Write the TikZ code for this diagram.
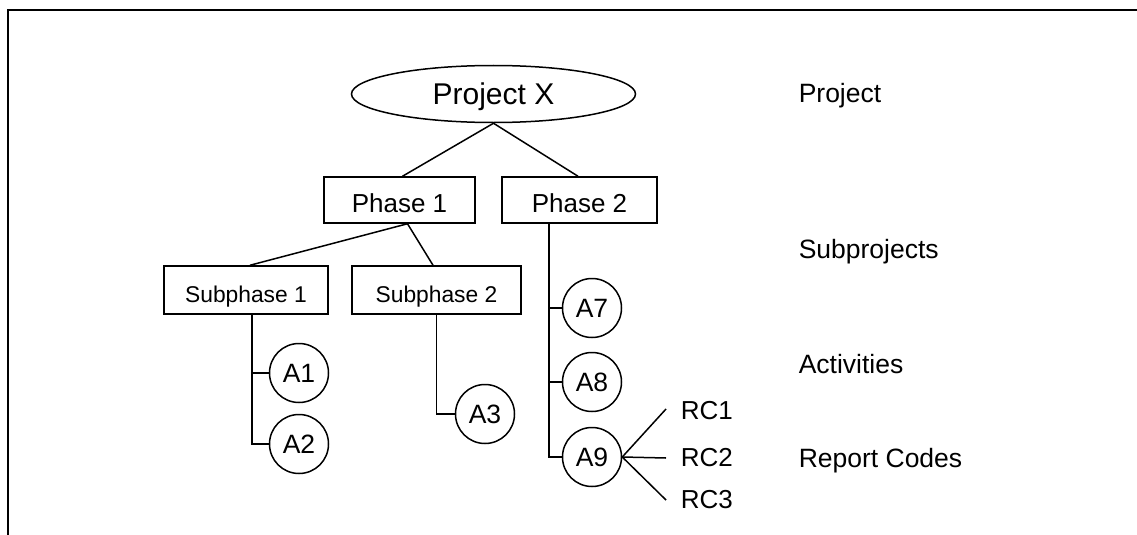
\documentclass[tikz,border=0pt]{standalone}
\usepackage{fontspec}
\setmainfont{Liberation Sans}
\usetikzlibrary{shapes.geometric}
\begin{document}
\begin{tikzpicture}[x=1pt,y=-1pt,
  line width=1.5pt,
  proj/.style={draw, ellipse, minimum width=284pt, minimum height=57pt, inner sep=0pt, font=\fontsize{30}{36}\selectfont, text depth=0pt},
  phasebox/.style={draw, rectangle, minimum width=151pt, minimum height=46pt, inner sep=0pt, font=\fontsize{26}{30}\selectfont, text depth=0pt, text height=25pt},
  subbox/.style={draw, rectangle, minimum height=48pt, inner sep=0pt, font=\fontsize{22.8}{26}\selectfont, text depth=0pt, text height=24pt},
  act/.style={draw, circle, minimum size=59pt, inner sep=0pt, font=\fontsize{26.5}{30}\selectfont},
  rc/.style={anchor=west, inner sep=0pt, font=\fontsize{26}{30}\selectfont},
  lvl/.style={anchor=base west, inner sep=0pt, font=\fontsize{26.5}{32}\selectfont}
]
\useasboundingbox (0,0) rectangle (1137,535);
\draw[line width=2pt] (8,535) -- (8,10) -- (1137,10);

\node[proj] (pr) at (493.5,94) {Project X};
\node[phasebox] (ph1) at (399.5,200) {Phase 1};
\node[phasebox, minimum width=155pt] (ph2) at (579.5,200) {Phase 2};
\node[subbox, minimum width=164pt] (sp1) at (246,290) {Subphase 1};
\node[subbox, minimum width=169pt] (sp2) at (436.5,290) {Subphase 2};

\node[act] (a1) at (299,373) {A1};
\node[act] (a2) at (299,444) {A2};
\node[act] (a3) at (485,414) {A3};
\node[act] (a7) at (592,308) {A7};
\node[act] (a8) at (592,382) {A8};
\node[act] (a9) at (592,457) {A9};

\node[rc] (rc1) at (680,411) {RC1};
\node[rc] (rc2) at (680,458) {RC2};
\node[rc] (rc3) at (680,500) {RC3};

\node[lvl] (l1) at (798,102) {Project};
\node[lvl] (l2) at (798,258) {Subprojects};
\node[lvl] (l3) at (798,373) {Activities};
\node[lvl] (l4) at (798,467) {Report Codes};

\draw (pr.south) -- ([xshift=3pt]ph1.north);
\draw (pr.south) -- ([xshift=-1.5pt]ph2.north);
\draw ([xshift=8pt]ph1.south) -- ([xshift=4pt]sp1.north);
\draw ([xshift=8pt]ph1.south) -- ([xshift=-3.5pt]sp2.north);

\coordinate (v1) at ([xshift=6pt]sp1.south);
\draw (v1) |- (a2.west);
\draw (v1 |- a1.west) -- (a1.west);
\draw (sp2.south) |- (a3.west);

\coordinate (v2) at ([xshift=-30.5pt]ph2.south);
\draw (v2) |- (a9.west);
\draw (v2 |- a7.west) -- (a7.west);
\draw (v2 |- a8.west) -- (a8.west);

\draw (a9.east) -- ([xshift=-14pt,yshift=2pt]rc1.west);
\draw (a9.east) -- ([xshift=-14pt]rc2.west);
\draw (a9.east) -- ([xshift=-14pt]rc3.west);
\end{tikzpicture}
\end{document}
